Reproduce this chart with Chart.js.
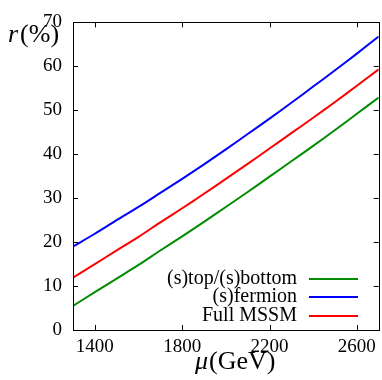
<!DOCTYPE html>
<html><head><meta charset="utf-8">
<script src="https://cdn.jsdelivr.net/npm/chart.js@4"></script>
<style>html,body{margin:0;padding:0;background:#fff}#wrap{width:382px;height:380px}</style>
</head><body><div id="wrap"><canvas id="c" width="382" height="380"></canvas></div>
<script>
const mu = [1300,1400,1500,1600,1700,1800,1900,2000,2100,2200,2300,2400,2500,2600,2700];
const rStopSbottom = [5.5,8.6,11.7,14.8,18.1,21.3,24.6,28.0,31.4,34.9,38.4,41.9,45.5,49.2,52.9];
const rSfermion    = [19.0,21.9,25.0,28.0,31.2,34.4,37.7,41.1,44.6,48.1,51.7,55.4,59.1,62.9,66.8];
const rFullMSSM    = [11.9,15.0,18.1,21.2,24.5,27.7,31.0,34.4,37.8,41.3,44.8,48.3,51.9,55.6,59.3];
const xTicks = [1400,1800,2200,2600];
const yTicks = [0,10,20,30,40,50,60,70];
const seriesLabels = ['(s)top/(s)bottom','(s)fermion','Full MSSM'];
const seriesColors = ['rgb(0,140,0)','rgb(0,0,255)','rgb(255,0,0)'];
const xTitleSym = 'μ', xTitleRest = '(GeV)';
const yTitleSym = 'r', yTitleRest = '(%)';

const SERIF = '"Liberation Serif","DejaVu Serif",serif';
const seriesValues = [rStopSbottom, rSfermion, rFullMSSM];

const framePlugin = {
  id: 'frame',
  afterDraw(chart) {
    const ctx = chart.ctx, a = chart.chartArea;
    const xs = chart.scales.x, ys = chart.scales.y;
    ctx.save();
    ctx.strokeStyle = '#000'; ctx.lineWidth = 1;
    ctx.strokeRect(Math.round(a.left)+0.5, Math.round(a.top)+0.5, Math.round(a.right-a.left), Math.round(a.bottom-a.top));
    const tl = 5;
    ctx.beginPath();
    xTicks.forEach(v => {
      const px = Math.round(xs.getPixelForValue(v)) + 0.5;
      ctx.moveTo(px, a.bottom); ctx.lineTo(px, a.bottom - tl);
      ctx.moveTo(px, a.top); ctx.lineTo(px, a.top + tl);
    });
    yTicks.forEach(v => {
      const py = Math.round(ys.getPixelForValue(v)) + 0.5;
      ctx.moveTo(a.left, py); ctx.lineTo(a.left + tl, py);
      ctx.moveTo(a.right, py); ctx.lineTo(a.right - tl, py);
    });
    ctx.stroke();

    // axis titles
    ctx.fillStyle = '#000';
    ctx.textBaseline = 'alphabetic';
    ctx.textAlign = 'left';
    ctx.font = 'italic 26px ' + SERIF;
    let w = ctx.measureText(xTitleSym).width;
    const xt0 = 195, xtb = 369;
    ctx.fillText(xTitleSym, xt0, xtb);
    ctx.font = '26px ' + SERIF;
    ctx.fillText(xTitleRest, xt0 + w + 1, xtb);

    ctx.font = 'italic 26px ' + SERIF;
    w = ctx.measureText(yTitleSym).width;
    const yt0 = 8, ytb = 42;
    ctx.fillText(yTitleSym, yt0, ytb);
    ctx.font = '26px ' + SERIF;
    ctx.fillText(yTitleRest, yt0 + w + 2, ytb);

    // legend
    const rows = [279, 297, 316];
    ctx.font = '20px ' + SERIF;
    ctx.textAlign = 'right';
    ctx.textBaseline = 'middle';
    chart.data.datasets.forEach((ds, i) => {
      ctx.fillStyle = '#000';
      ctx.fillText(ds.label, 297, rows[i]);
      ctx.strokeStyle = ds.borderColor; ctx.lineWidth = 2;
      ctx.beginPath(); ctx.moveTo(309, rows[i]); ctx.lineTo(358, rows[i]); ctx.stroke();
    });
    ctx.restore();
  }
};

new Chart(document.getElementById('c'), {
  type: 'line',
  data: {
    datasets: seriesLabels.map((lab, i) => ({
      label: lab,
      data: mu.map((m, j) => ({x: m, y: seriesValues[i][j]})),
      borderColor: seriesColors[i],
      borderWidth: 2,
      pointRadius: 0,
      fill: false,
      tension: 0.3
    }))
  },
  options: {
    responsive: false,
    animation: false,
    devicePixelRatio: 1,
    layout: {padding: {left: 0, top: 17, right: 2, bottom: 0}},
    plugins: {legend: {display: false}, tooltip: {enabled: false}},
    scales: {
      x: {
        type: 'linear', min: 1300, max: 2700,
        afterBuildTicks: s => { s.ticks = xTicks.map(v => ({value: v})); },
        afterFit: s => { s.height = 50; },
        grid: {display: false, drawTicks: false},
        border: {display: false},
        ticks: {color: '#000', font: {family: SERIF, size: 19}, padding: 6, maxRotation: 0, autoSkip: false, callback: v => String(v)}
      },
      y: {
        type: 'linear', min: 0, max: 70,
        afterBuildTicks: s => { s.ticks = yTicks.map(v => ({value: v})); },
        afterFit: s => { s.width = 73; },
        grid: {display: false, drawTicks: false},
        border: {display: false},
        ticks: {color: '#000', font: {family: SERIF, size: 19}, padding: 11, autoSkip: false, callback: v => String(v)}
      }
    }
  },
  plugins: [framePlugin]
});
</script></body></html>
